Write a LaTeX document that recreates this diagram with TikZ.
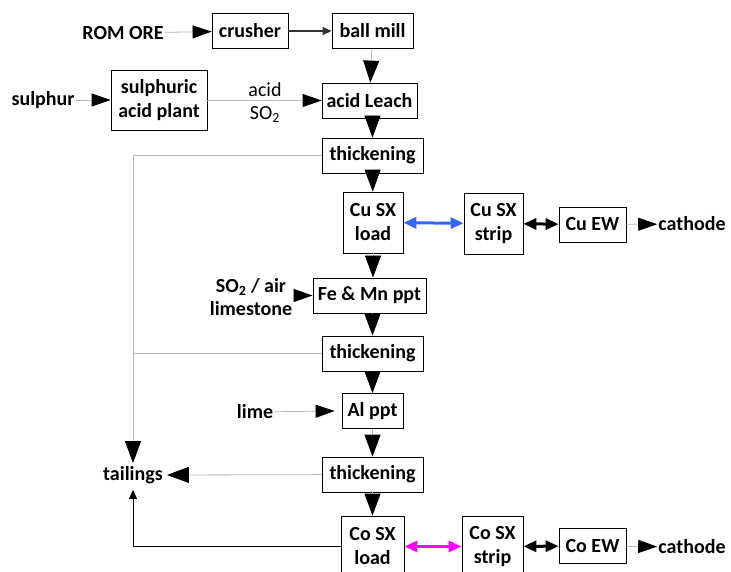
\documentclass[tikz,border=0pt]{standalone}
\usepackage{fontspec}
\setmainfont{Carlito}
\usetikzlibrary{arrows.meta,positioning}

\definecolor{cuflow}{RGB}{51,102,255}
\definecolor{coflow}{RGB}{255,0,255}

\begin{document}
\begin{tikzpicture}[x=1pt,y=-1pt,
    unit/.style={draw,line width=0.8pt,fill=white,align=center,inner sep=0pt,
        minimum height=35pt,font=\bfseries\fontsize{20}{24}\selectfont},
    tall/.style={unit,minimum height=61pt},
    lbl/.style={align=center,inner sep=1pt,font=\bfseries\fontsize{20}{23}\selectfont},
    feed/.style={draw=gray!55,line width=0.8pt,-{Triangle[length=19pt,width=13pt,color=black]}},
    stream/.style={draw=gray!55,line width=0.8pt,-{Triangle[length=22pt,width=16pt,color=black]}},
    link/.style={line width=3pt,{Triangle[length=13pt,width=11pt]}-{Triangle[length=13pt,width=11pt]}}]
    \useasboundingbox (0,0) rectangle (731,572);

    % Front end: crushing, milling and leach
    \node[lbl] (rom) at (123,33) {ROM ORE};
    \node[unit,minimum width=76pt] (crusher) at (250,31) {crusher};
    \node[unit,minimum width=81pt] (mill) at (372.5,31) {ball mill};
    \node[lbl] (sulphur) at (43,100) {sulphur};
    \node[unit,minimum width=96pt,minimum height=60pt] (acidplant) at (159,100) {sulphuric\\acid plant};
    \node[lbl,font=\fontsize{20}{23}\selectfont] (reagent) at (265,103) {acid\\SO\textsubscript{2}};
    \node[unit,minimum width=95pt] (leach) at (369.5,100.5) {acid Leach};

    % Main train
    \node[unit,minimum width=101pt] (thickA) at (372.5,155.5) {thickening};
    \node[tall,minimum width=60pt] (cuload) at (373,222.5) {Cu SX\\load};
    \node[unit,minimum width=113pt] (femn) at (369.5,295.5) {Fe \& Mn ppt};
    \node[lbl] (oxid) at (251,297) {SO\textsubscript{2} / air\\limestone};
    \node[unit,minimum width=101pt] (thickB) at (372.5,353.5) {thickening};
    \node[lbl] (lime) at (255,412) {lime};
    \node[unit,minimum width=61pt] (alppt) at (372.5,411) {Al ppt};
    \node[unit,minimum width=101pt] (thickC) at (372.5,474.5) {thickening};
    \node[tall,minimum width=63pt] (coload) at (372.5,546.5) {Co SX\\load};
    \node[lbl] (tailings) at (133,475) {tailings};

    % Strip and electrowinning
    \node[tall,minimum width=59pt] (custrip) at (493.5,223.5) {Cu SX\\strip};
    \node[unit,minimum width=67pt] (cuew) at (592.5,224.5) {Cu EW};
    \node[lbl] (cucath) at (692,224) {cathode};
    \node[tall,minimum width=61pt] (costrip) at (492.5,546.5) {Co SX\\strip};
    \node[unit,minimum width=67pt] (coew) at (592.5,546) {Co EW};
    \node[lbl] (cocath) at (692,547) {cathode};

    % Feed lines
    \draw[feed] (rom) -- (crusher);
    \draw[line width=1.2pt,draw=black!80,-{Triangle[length=9pt,width=8pt]}] (crusher) -- (mill);
    \draw[feed] (sulphur) -- (acidplant);
    \draw[feed] (acidplant.east |- leach.west) -- (leach.west);
    \draw[feed] (oxid.east |- femn.west) -- (femn.west);
    \draw[feed] (lime) -- ([xshift=-7pt]alppt.west);

    % Down the train
    \draw[stream] (mill) -- (leach);
    \draw[stream] (leach.south -| thickA) -- (thickA);
    \draw[stream] (thickA) -- (cuload);
    \draw[stream] (cuload) -- (cuload |- femn.north);
    \draw[stream] (femn.south -| thickB) -- (thickB);
    \draw[stream] (thickB) -- (alppt);
    \draw[stream] (alppt) -- (thickC);
    \draw[stream] (thickC) -- (coload);

    % Solids to tailings
    \draw[stream] (thickA.west) -| ([yshift=2pt]tailings.north);
    \draw[draw=gray!55,line width=0.8pt] (thickB.west) -- (thickB.west -| tailings);
    \draw[stream] (thickC) -- ([xshift=3pt]tailings.east);
    \draw[line width=1pt,-{Triangle[length=9pt,width=8pt]}] (coload.west) -| ([yshift=-5pt]tailings.south);

    % SX loops
    \draw[link,cuflow] (cuload) -- (custrip);
    \draw[link] (custrip) -- (cuew);
    \draw[feed] (cuew) -- (cucath);
    \draw[link,coflow] (coload) -- (costrip);
    \draw[link] (costrip) -- (coew);
    \draw[feed] (coew) -- (cocath);
\end{tikzpicture}
\end{document}
